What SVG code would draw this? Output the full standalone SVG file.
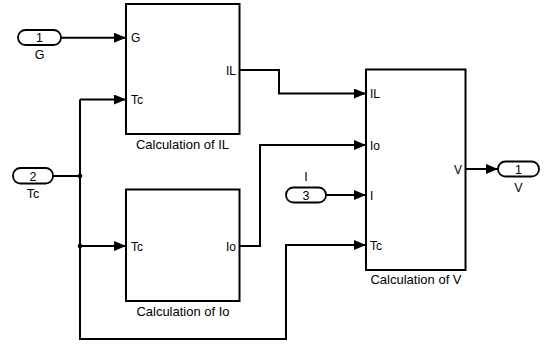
<svg xmlns="http://www.w3.org/2000/svg" width="547" height="345" viewBox="0 0 547 345">
  <style>
    .blk { fill: #fff; stroke: #000; stroke-width: 2; }
    .port { fill: #fff; stroke: #000; stroke-width: 1.8; }
    .wire { fill: none; stroke: #000; stroke-width: 2; }
    .arr { marker-end: url(#tip); }
    text { font-family: "Liberation Sans", Arial, sans-serif; fill: #000; }
    .pl { font-size: 12px; }
    .nm { font-size: 13px; text-anchor: middle; }
    .num { font-size: 12.5px; text-anchor: middle; }
    .end { text-anchor: end; }
  </style>
  <defs>
    <marker id="tip" markerUnits="userSpaceOnUse" markerWidth="13" markerHeight="11" refX="12" refY="5" orient="auto">
      <path d="M0,0 L12,5 L0,10 z" fill="#000"/>
    </marker>
  </defs>

  <g id="connectors">
    <path class="wire arr" d="M61,37.7 H126"/>
    <path class="wire" d="M53,176 H80"/>
    <path class="wire" d="M80,99.5 V339 H286 V245 H364"/>
    <path class="wire arr" d="M80,99.5 H126"/>
    <path class="wire arr" d="M80,246 H126"/>
    <path class="wire arr" d="M239.5,70 H279 V93.5 H366"/>
    <path class="wire arr" d="M240,246 H260 V145 H366"/>
    <path class="wire arr" d="M326,195 H366"/>
    <path class="wire arr" d="M286,245 H366"/>
    <path class="wire arr" d="M466,169 H498"/>
    <circle cx="80" cy="176" r="2.3" fill="#000"/>
    <circle cx="80" cy="246" r="2.3" fill="#000"/>
  </g>

  <g id="in1">
    <rect class="port" x="18" y="30" width="43" height="15" rx="7.5"/>
    <text class="num" x="39.5" y="42">1</text>
    <text class="num" x="39.5" y="59">G</text>
  </g>

  <g id="in2">
    <rect class="port" x="13" y="168" width="40" height="15.5" rx="7.5"/>
    <text class="num" x="33" y="180.5">2</text>
    <text class="num" x="33" y="198">Tc</text>
  </g>

  <g id="in3">
    <rect class="port" x="286" y="187.5" width="40" height="15" rx="7.5"/>
    <text class="num" x="306" y="199.5">3</text>
    <text class="num" x="306" y="181">I</text>
  </g>

  <g id="out1">
    <rect class="port" x="498" y="161.5" width="41" height="15" rx="7.5"/>
    <text class="num" x="518.5" y="173.5">1</text>
    <text class="num" x="518.5" y="192">V</text>
  </g>

  <g id="calcIL">
    <rect class="blk" x="126" y="4" width="113.5" height="130"/>
    <text class="pl" x="131" y="42">G</text>
    <text class="pl" x="131" y="104">Tc</text>
    <text class="pl end" x="236" y="74.5">IL</text>
    <text class="nm" x="182.5" y="148.5">Calculation of IL</text>
  </g>

  <g id="calcIo">
    <rect class="blk" x="126" y="189.5" width="113.5" height="111.5"/>
    <text class="pl" x="131" y="250.5">Tc</text>
    <text class="pl end" x="236" y="250.5">Io</text>
    <text class="nm" x="183" y="315.5">Calculation of Io</text>
  </g>

  <g id="calcV">
    <rect class="blk" x="366" y="69.5" width="99.5" height="200.5"/>
    <text class="pl" x="370" y="98">IL</text>
    <text class="pl" x="370" y="149.5">Io</text>
    <text class="pl" x="370" y="199.5">I</text>
    <text class="pl" x="370" y="249.5">Tc</text>
    <text class="pl end" x="462" y="173.5">V</text>
    <text class="nm" x="416" y="283.5">Calculation of V</text>
  </g>
</svg>
